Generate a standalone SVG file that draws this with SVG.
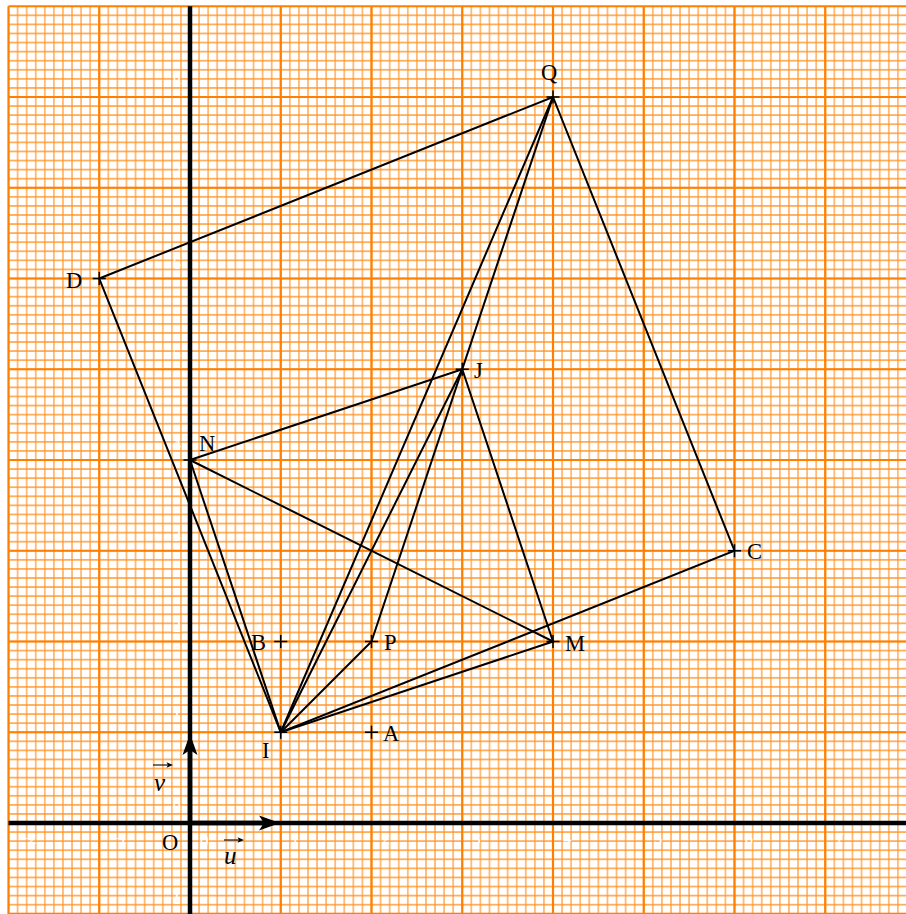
<svg xmlns="http://www.w3.org/2000/svg" width="906" height="914" viewBox="0 0 906 914">
<style>
.minor{stroke:#ff8000;stroke-width:1.15;fill:none;opacity:0.85}
.major{stroke:#ff8000;stroke-width:2.2;fill:none}
.axis{stroke:#000;stroke-width:4.5;fill:none}
.seg{stroke:#000;stroke-width:2;fill:none;stroke-linecap:round}
.cross{stroke:#000;stroke-width:1.5;fill:none}
.lbl{font-family:"Liberation Serif","DejaVu Serif",serif;font-size:22.5px;fill:#000}
.vec{font-family:"Liberation Serif","DejaVu Serif",serif;font-size:25px;font-style:italic;fill:#000}
.tick{font-family:"Liberation Serif","DejaVu Serif",serif;font-size:17px;fill:#fff}
.ty{text-anchor:end}
</style>
<defs>
<pattern id="minorGrid" patternUnits="userSpaceOnUse" x="3.9625" y="1.7125" width="9.075" height="9.075">
<path class="minor" d="M4.5375 0V9.075M0 4.5375H9.075"/>
</pattern>
</defs>
<rect width="906" height="914" fill="#fff"/>
<g id="grid">
<rect x="8.5" y="6.25" width="898" height="908" fill="url(#minorGrid)"/>
<path class="major" d="M8.5 6.25V914M99.25 6.25V914M190 6.25V914M280.75 6.25V914M371.5 6.25V914M462.25 6.25V914M553 6.25V914M643.75 6.25V914M734.5 6.25V914M825.25 6.25V914M8.5 6.25H906M8.5 97H906M8.5 187.75H906M8.5 278.5H906M8.5 369.25H906M8.5 460H906M8.5 550.75H906M8.5 641.5H906M8.5 732.25H906M8.5 823H906M8.5 913.75H906"/>
</g>
<g id="tick-labels">
<text class="tick" x="18.5" y="844">−2</text>
<text class="tick" x="109.25" y="844">−1</text>
<text class="tick" x="200" y="846">0</text>
<text class="tick" x="290.75" y="844">1</text>
<text class="tick" x="381.5" y="844">2</text>
<text class="tick" x="472.25" y="844">3</text>
<text class="tick" x="563" y="844">4</text>
<text class="tick" x="653.75" y="844">5</text>
<text class="tick" x="744.5" y="844">6</text>
<text class="tick" x="835.25" y="844">7</text>
<text class="tick ty" x="181" y="903.75">−1</text>
<text class="tick ty" x="181" y="813">0</text>
<text class="tick ty" x="181" y="722.25">1</text>
<text class="tick ty" x="181" y="631.5">2</text>
<text class="tick ty" x="181" y="540.75">3</text>
<text class="tick ty" x="181" y="450">4</text>
<text class="tick ty" x="181" y="359.25">5</text>
<text class="tick ty" x="181" y="268.5">6</text>
<text class="tick ty" x="181" y="177.75">7</text>
<text class="tick ty" x="181" y="87">8</text>
</g>
<g id="axes">
<path class="axis" d="M8.5 823H906M190 6.25V914"/>
</g>
<g id="vector-u">
<path d="M190 823H266" stroke="#000" stroke-width="4.5"/>
<path d="M280 823L259 815.5L264 823L259 830.5Z" fill="#000"/>
<path d="M224 840H241" stroke="#000" stroke-width="1.1"/>
<path d="M244 840L237.5 837.2L239 840L237.5 842.8Z" fill="#000"/>
<text class="vec" x="224" y="864">u</text>
</g>
<g id="vector-v">
<path d="M190 823V748" stroke="#000" stroke-width="4.5"/>
<path d="M190 734L182.5 755L190 750L197.5 755Z" fill="#000"/>
<path d="M153 765H170" stroke="#000" stroke-width="1.1"/>
<path d="M173 765L166.5 762.2L168 765L166.5 767.8Z" fill="#000"/>
<text class="vec" x="154" y="791">v</text>
</g>
<g id="connectors">
<path class="seg" d="M99.25 278.5L553 97L734.5 550.75L280.75 732.25Z"/>
<path class="seg" d="M190 460L462.25 369.25L553 641.5L280.75 732.25Z"/>
<path class="seg" d="M190 460L553 641.5"/>
<path class="seg" d="M280.75 732.25L462.25 369.25"/>
<path class="seg" d="M280.75 732.25L553 97"/>
<path class="seg" d="M280.75 732.25L371.5 641.5"/>
<path class="seg" d="M371.5 641.5L553 97"/>
</g>
<g id="point-O">
<text class="lbl" x="162" y="850">O</text>
</g>
<g id="point-I">
<path class="cross" d="M274.25 732.25h13M280.75 725.75v13"/>
<text class="lbl" x="262" y="758">I</text>
</g>
<g id="point-A">
<path class="cross" d="M365 732.25h13M371.5 725.75v13"/>
<text class="lbl" x="383" y="741">A</text>
</g>
<g id="point-B">
<path class="cross" d="M274.25 641.5h13M280.75 635v13"/>
<text class="lbl" x="251" y="650">B</text>
</g>
<g id="point-P">
<path class="cross" d="M365 641.5h13M371.5 635v13"/>
<text class="lbl" x="384" y="650">P</text>
</g>
<g id="point-M">
<path class="cross" d="M546.5 641.5h13M553 635v13"/>
<text class="lbl" x="565" y="651">M</text>
</g>
<g id="point-C">
<path class="cross" d="M728 550.75h13M734.5 544.25v13"/>
<text class="lbl" x="747" y="559">C</text>
</g>
<g id="point-N">
<path class="cross" d="M183.5 460h13M190 453.5v13"/>
<text class="lbl" x="199" y="451">N</text>
</g>
<g id="point-J">
<path class="cross" d="M455.75 369.25h13M462.25 362.75v13"/>
<text class="lbl" x="474" y="378">J</text>
</g>
<g id="point-D">
<path class="cross" d="M92.75 278.5h13M99.25 272v13"/>
<text class="lbl" x="66" y="288">D</text>
</g>
<g id="point-Q">
<path class="cross" d="M546.5 97h13M553 90.5v13"/>
<text class="lbl" x="541" y="80">Q</text>
</g>
</svg>
